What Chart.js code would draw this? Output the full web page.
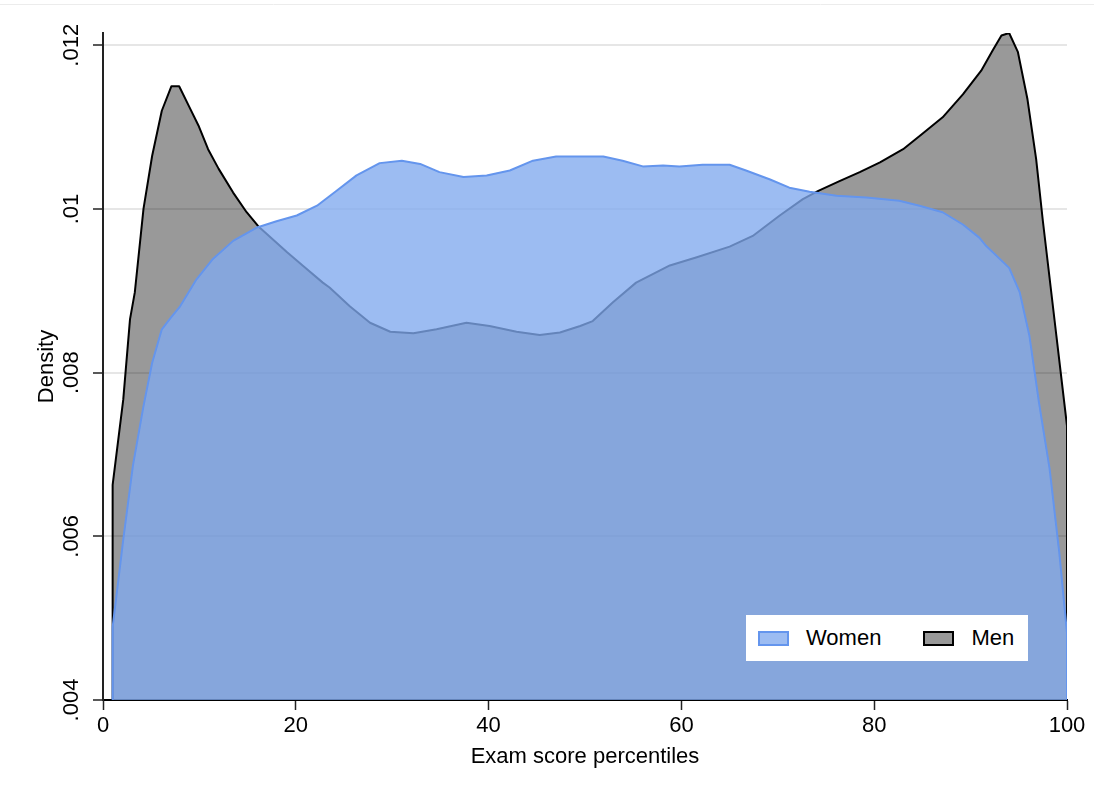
<!DOCTYPE html>
<html>
<head>
<meta charset="utf-8">
<title>Exam score percentiles by sex</title>
<script src="https://cdn.jsdelivr.net/npm/chart.js@4.4.1/dist/chart.umd.min.js"></script>
<style>
  html, body { margin: 0; padding: 0; background: #ffffff; }
  #wrap { position: relative; width: 1094px; height: 800px; }
  #plot { position: absolute; left: 0; top: 0; }
  #legend {
    position: absolute; left: 746px; top: 615px; width: 282px; height: 46px;
    box-sizing: border-box; padding-left: 12px;
    background: #ffffff; display: flex; align-items: center;
    font-family: 'Liberation Sans', Arial, Helvetica, sans-serif; font-size: 22px; color: #000;
  }
  #legend .item { display: flex; align-items: center; margin-right: 42px; }
  #legend .swatch { width: 31px; height: 15px; box-sizing: border-box; border: 2px solid; margin-right: 17px; }
</style>
</head>
<body>
<div id="wrap">
  <canvas id="plot" width="1094" height="800"></canvas>
  <div id="legend"></div>
</div>
<script>
// Kernel density of exam score percentiles, women and men
const womenScore = [1.0, 2.1, 3.1, 4.2, 5.1, 6.1, 7.1, 8.0, 9.7, 11.4, 13.5, 15.9, 18.0, 20.1, 22.2, 24.2,
  26.3, 28.7, 31.0, 32.9, 34.9, 37.4, 39.8, 42.2, 44.6, 47.0, 49.5, 51.9, 53.9, 56.0, 58.1, 59.8, 62.2,
  65.0, 66.7, 69.2, 71.2, 73.3, 76.1, 79.2, 82.6, 84.7, 87.1, 89.2, 90.9, 91.6, 94.0, 95.1, 96.1, 97.1,
  98.2, 99.2, 100.0];
const womenDensity = [0.00489, 0.00596, 0.00686, 0.00759, 0.00812, 0.00853, 0.00868, 0.00881, 0.00914,
  0.00939, 0.00961, 0.00977, 0.00985, 0.00992, 0.01004, 0.01022, 0.01041, 0.01056, 0.01059, 0.01055,
  0.01045, 0.01039, 0.01041, 0.01047, 0.01059, 0.01064, 0.01064, 0.01064, 0.01059, 0.01052, 0.01053,
  0.01052, 0.01054, 0.01054, 0.01047, 0.01036, 0.01026, 0.01021, 0.01016, 0.01014, 0.01010, 0.01004,
  0.00996, 0.00981, 0.00965, 0.00955, 0.00928, 0.00898, 0.00845, 0.00763, 0.00682, 0.00580, 0.00482];

const menScore = [1.0, 2.1, 2.8, 3.3, 4.2, 5.1, 6.1, 7.1, 7.9, 8.9, 9.9, 10.9, 12.0, 13.5, 14.9, 16.1,
  19.1, 20.8, 22.8, 23.5, 25.6, 27.7, 29.8, 32.2, 34.6, 37.7, 40.1, 42.9, 45.3, 47.4, 49.5, 50.8, 52.9,
  55.3, 58.8, 61.6, 65.0, 67.4, 70.2, 72.6, 74.2, 76.4, 78.5, 80.6, 83.0, 85.0, 87.1, 89.2, 91.1, 92.3,
  93.2, 94.0, 94.9, 95.9, 96.8, 97.5, 98.9, 100.0];
const menDensity = [0.00663, 0.00767, 0.00865, 0.00898, 0.01000, 0.01065, 0.01120, 0.01150, 0.01150,
  0.01126, 0.01102, 0.01073, 0.01049, 0.01020, 0.00996, 0.00979, 0.00947, 0.00930, 0.00910, 0.00904,
  0.00881, 0.00861, 0.00850, 0.00848, 0.00853, 0.00861, 0.00857, 0.00850, 0.00846, 0.00849, 0.00857,
  0.00863, 0.00886, 0.00910, 0.00931, 0.00941, 0.00954, 0.00967, 0.00992, 0.01012, 0.01022, 0.01034,
  0.01045, 0.01057, 0.01073, 0.01092, 0.01112, 0.01140, 0.01169, 0.01194, 0.01212, 0.01215, 0.01192,
  0.01134, 0.01061, 0.00985, 0.00845, 0.00735];

const seriesLabels = ['Women', 'Men'];
const xTickValues = [0, 20, 40, 60, 80, 100];
const xTickLabels = ['0', '20', '40', '60', '80', '100'];
const yTickValues = [0.004, 0.006, 0.008, 0.010, 0.012];
const yTickLabels = ['.004', '.006', '.008', '.01', '.012'];

const yMin = yTickValues[0];
const yMax = Math.max(...menDensity, ...womenDensity);

// Closed area outline: drop to the baseline at both ends of the density
function areaPoints(xs, ys) {
  const pts = xs.map((x, i) => ({ x: x, y: ys[i] }));
  return [{ x: xs[0], y: yMin }, ...pts, { x: xs[xs.length - 1], y: yMin }];
}

const FONT = "'Liberation Sans', Arial, Helvetica, sans-serif";

// Faint rule across the top of the graph region
const graphFrame = {
  id: 'graphFrame',
  beforeDraw(chart) {
    const ctx = chart.ctx;
    ctx.save();
    ctx.strokeStyle = '#ececec';
    ctx.lineWidth = 1;
    ctx.beginPath();
    ctx.moveTo(0, 4.5);
    ctx.lineTo(chart.width, 4.5);
    ctx.stroke();
    ctx.restore();
  }
};

const chart = new Chart(document.getElementById('plot'), {
  type: 'line',
  data: {
    datasets: [
      {
        label: seriesLabels[0],
        data: areaPoints(womenScore, womenDensity),
        borderColor: '#6495ED',
        backgroundColor: 'rgba(128, 169, 238, 0.78)',
        borderWidth: 2,
        fill: 'start',
        pointRadius: 0,
        pointHoverRadius: 0,
        borderJoinStyle: 'round',
        order: 0
      },
      {
        label: seriesLabels[1],
        data: areaPoints(menScore, menDensity),
        borderColor: '#000000',
        backgroundColor: 'rgba(0, 0, 0, 0.4)',
        borderWidth: 2,
        fill: 'start',
        pointRadius: 0,
        pointHoverRadius: 0,
        borderJoinStyle: 'round',
        order: 1
      }
    ]
  },
  options: {
    responsive: false,
    devicePixelRatio: 1,
    animation: false,
    events: [],
    layout: { padding: { left: 0, right: 27, top: 33, bottom: 0 } },
    plugins: {
      legend: { display: false },
      tooltip: { enabled: false }
    },
    scales: {
      x: {
        type: 'linear',
        min: 0,
        max: 100,
        afterBuildTicks(scale) { scale.ticks = xTickValues.map(v => ({ value: v })); },
        afterFit(scale) { scale.height = 100; scale.paddingLeft = 0; scale.paddingRight = 0; },
        border: { color: '#000000', width: 2 },
        grid: { drawOnChartArea: false, drawTicks: true, tickLength: 10, tickColor: '#222222', tickWidth: 1.5 },
        ticks: {
          color: '#000000',
          padding: 3,
          maxRotation: 0,
          autoSkip: false,
          font: { family: FONT, size: 22 },
          callback: (v, i) => xTickLabels[i]
        },
        title: {
          display: true,
          text: 'Exam score percentiles',
          color: '#000000',
          font: { family: FONT, size: 22, lineHeight: 1.2 },
          padding: { top: 0, bottom: 30 }
        }
      },
      y: {
        type: 'linear',
        min: yMin,
        max: yMax,
        afterBuildTicks(scale) { scale.ticks = yTickValues.map(v => ({ value: v })); },
        afterFit(scale) { scale.width = 103; scale.paddingTop = 0; scale.paddingBottom = 0; },
        border: { color: '#222222', width: 2 },
        grid: { color: '#e6e6e6', lineWidth: 2, drawTicks: true, tickLength: 10, tickColor: '#222222', tickWidth: 1.5 },
        ticks: {
          color: '#000000',
          padding: 0,
          minRotation: 90,
          maxRotation: 90,
          crossAlign: 'center',
          autoSkip: false,
          font: { family: FONT, size: 22 },
          callback: (v, i) => yTickLabels[i]
        },
        title: {
          display: true,
          text: 'Density',
          color: '#000000',
          font: { family: FONT, size: 22, lineHeight: 1.2 },
          padding: { top: 34, bottom: 0 }
        }
      }
    }
  },
  plugins: [graphFrame]
});

// Legend built from the chart's own datasets
(function renderLegend() {
  const box = document.getElementById('legend');
  chart.data.datasets.forEach(ds => {
    const item = document.createElement('div');
    item.className = 'item';
    const sw = document.createElement('span');
    sw.className = 'swatch';
    sw.style.background = ds.backgroundColor;
    sw.style.borderColor = ds.borderColor;
    const label = document.createElement('span');
    label.textContent = ds.label;
    item.appendChild(sw);
    item.appendChild(label);
    box.appendChild(item);
  });
})();
</script>
</body>
</html>
